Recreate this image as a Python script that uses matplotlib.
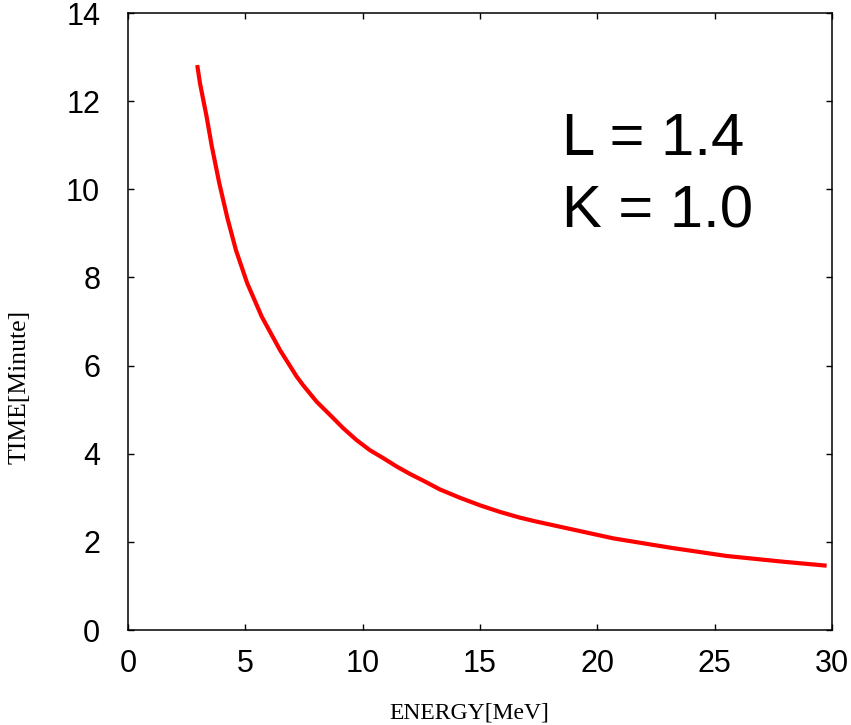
import matplotlib
matplotlib.use("Agg")
import matplotlib.pyplot as plt

# curve (energy in MeV, drift time in minutes)
energy = [2.95, 3.07, 3.35, 3.57, 3.89, 4.23, 4.60, 5.08, 5.70, 6.48, 7.19,
          7.47, 8.04, 8.61, 9.17, 9.74, 10.31, 10.88, 11.45, 12.02, 12.58,
          13.29, 14.15, 15.00, 15.85, 16.70, 17.41, 18.27, 20.68, 23.09,
          25.51, 27.92, 29.77]
time_min = [12.82, 12.40, 11.65, 10.98, 10.14, 9.36, 8.62, 7.87, 7.11, 6.35,
            5.75, 5.55, 5.18, 4.88, 4.58, 4.31, 4.08, 3.90, 3.71, 3.54, 3.39,
            3.19, 3.00, 2.83, 2.68, 2.55, 2.46, 2.36, 2.08, 1.87, 1.68, 1.55,
            1.46]

x_ticks = [0, 5, 10, 15, 20, 25, 30]
y_ticks = [0, 2, 4, 6, 8, 10, 12, 14]
annotation = ["L = 1.4", "K = 1.0"]

plt.rcParams["font.family"] = "Liberation Sans"

fig = plt.figure(figsize=(8.51, 7.25), dpi=100)
ax = fig.add_axes([0.1504, 0.131, 0.8273, 0.851])

ax.plot(energy, time_min, color="#ff0000", lw=3.0,
        solid_capstyle="butt", solid_joinstyle="round")

ax.set_xlim(0, 30)
ax.set_ylim(0, 14)
ax.set_xticks(x_ticks)
ax.set_yticks(y_ticks)
ax.tick_params(direction="in", length=4.5, width=1.0, top=True, right=True,
               labelsize=22)
ax.tick_params(axis="x", pad=14)
ax.tick_params(axis="y", pad=20)
for s in ax.spines.values():
    s.set_linewidth(1.1)

# axis titles placed in figure pixels to sit where the reference has them
fig.text(469 / 851, 1 - 713 / 725, "ENERGY[MeV]", family="Liberation Serif",
         fontsize=17, ha="center", va="center")
fig.text(20 / 851, 1 - 387 / 725, "TIME[Minute]", family="Liberation Serif",
         fontsize=18.5, ha="center", va="center", rotation=90)

ax.text(0.617, 0.770, annotation[0], transform=ax.transAxes, fontsize=43,
        va="baseline", ha="left")
ax.text(0.617, 0.653, annotation[1], transform=ax.transAxes, fontsize=43,
        va="baseline", ha="left")

fig.savefig("out.png", dpi=100)
